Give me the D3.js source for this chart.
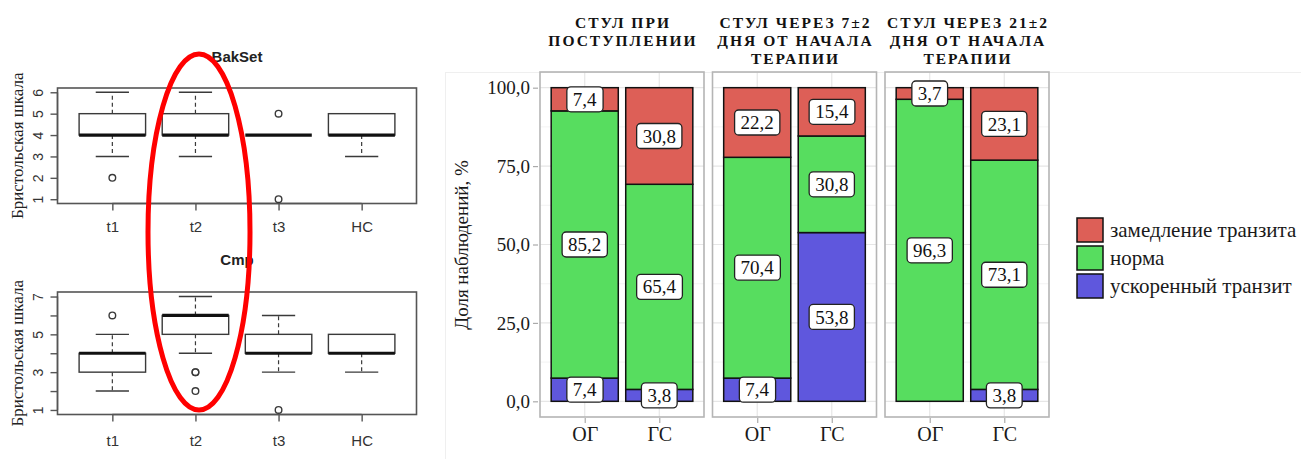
<!DOCTYPE html>
<html><head><meta charset="utf-8">
<script src="https://cdn.jsdelivr.net/npm/d3@7"></script>
<style>
html,body{margin:0;padding:0;background:#fff;}
svg{display:block;}
</style></head>
<body>
<svg id="c" width="1301" height="459"></svg>
<script>
// ---------- DATA ----------
const boxGroups = ["t1", "t2", "t3", "HC"];
// BakSet: [lowWhisker, q1, median, q3, highWhisker]
const bakSetStats = [[3,4,4,5,6],[3,4,4,5,6],[4,4,4,4,4],[3,4,4,5,5]];
const bakSetOutliers = [[2],[],[5,1],[]];
const bakSetTicks = [1,2,3,4,5,6];
const cmpStats = [[2,3,4,4,5],[4,5,6,6,7],[3,4,4,5,6],[3,4,4,5,5]];
const cmpOutliers = [[6],[3,3,2],[1],[]];
const cmpTicks = [1,2,3,4,5,6,7];
const cmpTickLabels = [1,3,5,7];

const facets = ["СТУЛ ПРИ|ПОСТУПЛЕНИИ", "СТУЛ ЧЕРЕЗ 7±2|ДНЯ ОТ НАЧАЛА|ТЕРАПИИ", "СТУЛ ЧЕРЕЗ 21±2|ДНЯ ОТ НАЧАЛА|ТЕРАПИИ"];
const groups = ["ОГ", "ГС"];
const seriesNames = ["замедление транзита", "норма", "ускоренный транзит"];
// values per facet, per group (ОГ, ГС)
const slowTransit = [[7.4, 30.8], [22.2, 15.4], [3.7, 23.1]];
const normal      = [[85.2, 65.4], [70.4, 30.8], [96.3, 73.1]];
const fastTransit = [[7.4, 3.8], [7.4, 53.8], [0, 3.8]];
const yTicks = [0, 25, 50, 75, 100];
const yTickLabels = ["0,0", "25,0", "50,0", "75,0", "100,0"];
const colors = ["#DD5F57", "#57DD5F", "#5F57DD"];

// ---------- DRAW ----------
const svg = d3.select("#c");
const serif = "Liberation Serif";
const sans = "Liberation Sans";

// faint image borders
svg.append("line").attr("x1",445).attr("x2",1301).attr("y1",72.5).attr("y2",72.5).attr("stroke","#efefef");
svg.append("line").attr("x1",445.5).attr("x2",445.5).attr("y1",72).attr("y2",459).attr("stroke","#efefef");

// ---- boxplots ----
function boxplot(title, stats, outliers, ticks, tickLabels, frameTop, frameBottom, titleY, labelY) {
  const g = svg.append("g");
  const x = d3.scaleLinear().domain([0.34, 4.66]).range([57.5, 416.5]);
  const lo = d3.min(ticks), hi = d3.max(ticks);
  const pad = (hi - lo) * 0.04;
  const y = d3.scaleLinear().domain([lo - pad, hi + pad]).range([frameBottom, frameTop]);
  const stroke = "#3a3a3a";
  g.append("rect").attr("x", x(0.34)).attr("y", frameTop).attr("width", x(4.66)-x(0.34)).attr("height", frameBottom-frameTop)
    .attr("fill","none").attr("stroke","#555").attr("stroke-width",1.6);
  // y axis
  const ya = d3.axisLeft(y).tickValues(ticks).tickSize(7).tickFormat(d => tickLabels.includes(d) ? d : "");
  const yg = g.append("g").attr("transform", `translate(${x(0.34)},0)`).call(ya);
  yg.select(".domain").remove();
  yg.append("line").attr("x1",0).attr("x2",0).attr("y1",y(lo)).attr("y2",y(hi)).attr("stroke","#555").attr("stroke-width",1.4);
  yg.selectAll(".tick line").attr("stroke","#555").attr("stroke-width",1.4);
  yg.selectAll(".tick text").attr("font-family",sans).attr("font-size",14).attr("fill","#333")
    .attr("transform","rotate(-90)").attr("x",0).attr("y",-19).attr("dy","0.35em").attr("text-anchor","middle");
  // x axis
  const xa = d3.axisBottom(x).tickValues([1,2,3,4]).tickSize(7).tickFormat((d,i)=>boxGroups[i]);
  const xg = g.append("g").attr("transform", `translate(0,${frameBottom})`).call(xa);
  xg.select(".domain").remove();
  xg.append("line").attr("x1",x(1)).attr("x2",x(4)).attr("y1",0).attr("y2",0).attr("stroke","#555").attr("stroke-width",1.4);
  xg.selectAll(".tick line").attr("stroke","#555").attr("stroke-width",1.4);
  xg.selectAll(".tick text").attr("font-family",sans).attr("font-size",15).attr("fill","#333").attr("y",labelY - frameBottom).attr("dy","0.35em");
  // title
  g.append("text").attr("x",(x(0.34)+x(4.66))/2).attr("y",titleY).attr("text-anchor","middle")
    .attr("font-family",sans).attr("font-weight","bold").attr("font-size",15).attr("fill","#222").text(title);
  // y title
  g.append("text").attr("transform",`translate(23,${(frameTop+frameBottom)/2}) rotate(-90)`).attr("text-anchor","middle")
    .attr("font-family",serif).attr("font-size",17).attr("fill","#222").text("Бристольская шкала");
  // boxes
  stats.forEach((s,i)=>{
    const cx = x(i+1), hw = (x(1.4)-x(1));
    const [wl,q1,md,q3,wh] = s;
    if (wh > q3) {
      g.append("line").attr("x1",cx).attr("x2",cx).attr("y1",y(q3)).attr("y2",y(wh)).attr("stroke",stroke).attr("stroke-dasharray","4,3").attr("stroke-width",1.2);
      g.append("line").attr("x1",cx-hw/2).attr("x2",cx+hw/2).attr("y1",y(wh)).attr("y2",y(wh)).attr("stroke",stroke).attr("stroke-width",1.4);
    }
    if (wl < q1) {
      g.append("line").attr("x1",cx).attr("x2",cx).attr("y1",y(q1)).attr("y2",y(wl)).attr("stroke",stroke).attr("stroke-dasharray","4,3").attr("stroke-width",1.2);
      g.append("line").attr("x1",cx-hw/2).attr("x2",cx+hw/2).attr("y1",y(wl)).attr("y2",y(wl)).attr("stroke",stroke).attr("stroke-width",1.4);
    }
    g.append("rect").attr("x",cx-hw).attr("width",2*hw).attr("y",y(q3)).attr("height",Math.max(0,y(q1)-y(q3)))
      .attr("fill","#fff").attr("stroke",stroke).attr("stroke-width",1.4);
    g.append("line").attr("x1",cx-hw).attr("x2",cx+hw).attr("y1",y(md)).attr("y2",y(md)).attr("stroke","#111").attr("stroke-width",3.2);
    outliers[i].forEach(o=>{
      g.append("circle").attr("cx",cx).attr("cy",y(o)).attr("r",3.3).attr("fill","none").attr("stroke",stroke).attr("stroke-width",1.4);
    });
  });
}
boxplot("BakSet", bakSetStats, bakSetOutliers, bakSetTicks, bakSetTicks, 88, 203.5, 62, 227);
boxplot("Cmp", cmpStats, cmpOutliers, cmpTicks, cmpTickLabels, 292, 414.5, 265, 441);

// red ellipse
svg.append("ellipse").attr("cx",199).attr("cy",232).attr("rx",51).attr("ry",178)
  .attr("fill","none").attr("stroke","#FF0000").attr("stroke-width",5);

// ---- stacked bar facets ----
const panelX = [540, 712.5, 885];
const panelW = 164;
const panelTop = 72, panelBottom = 417;
const y = d3.scaleLinear().domain([-5, 105]).range([panelBottom, panelTop]);

// y axis
const yAxis = d3.axisLeft(y).tickValues(yTicks).tickSize(5).tickPadding(3).tickFormat((d,i)=>yTickLabels[i]);
const yAx = svg.append("g").attr("transform",`translate(${panelX[0]-2},0)`).call(yAxis);
yAx.select(".domain").remove();
yAx.selectAll(".tick line").attr("stroke","#aaa").attr("stroke-width",1.2);
yAx.selectAll(".tick text").attr("font-family",serif).attr("font-size",19).attr("fill","#1a1a1a");
svg.append("text").attr("transform",`translate(468,245) rotate(-90)`).attr("text-anchor","middle")
  .attr("font-family",serif).attr("font-size",19).attr("fill","#1a1a1a").text("Доля наблюдений, %");

facets.forEach((title, f) => {
  const x0 = panelX[f];
  const xs = d3.scalePoint().domain(groups).range([x0, x0 + panelW]).padding(0.6);
  const bw = xs.step() * 0.9;
  const g = svg.append("g");
  // grid
  d3.range(0, 101, 12.5).forEach(v=>{
    g.append("line").attr("x1",x0).attr("x2",x0+panelW).attr("y1",y(v)).attr("y2",y(v))
      .attr("stroke", v % 25 === 0 ? "#e6e6e6" : "#f0f0f0").attr("stroke-width", v % 25 === 0 ? 1.2 : 0.8);
  });
  groups.forEach(gr=>{
    g.append("line").attr("x1",xs(gr)).attr("x2",xs(gr)).attr("y1",panelTop).attr("y2",panelBottom).attr("stroke","#e6e6e6").attr("stroke-width",1.2);
  });
  // bars (stack from bottom: fast, normal, slow)
  groups.forEach((gr, gi)=>{
    const vals = [fastTransit[f][gi], normal[f][gi], slowTransit[f][gi]];
    const cols = [colors[2], colors[1], colors[0]];
    let base = 0;
    const segs = [];
    vals.forEach((v, k)=>{
      if (v > 0) {
        g.append("rect").attr("x", xs(gr)-bw/2).attr("width", bw).attr("y", y(base+v)).attr("height", y(base)-y(base+v))
          .attr("fill", cols[k]).attr("stroke","#111").attr("stroke-width",1.5);
        segs.push({v, mid: base + v/2});
      }
      base += v;
    });
    segs.forEach(s=>{
      const txt = d3.format(".1f")(s.v).replace(".", ",");
      const lg = g.append("g").attr("transform",`translate(${xs(gr)},${y(s.mid)})`);
      const t = lg.append("text").attr("text-anchor","middle").attr("dy","0.35em")
        .attr("font-family",serif).attr("font-size",19).attr("fill","#111").text(txt);
      const bb = t.node().getBBox();
      lg.insert("rect","text").attr("x", bb.x-6).attr("y",-12.5).attr("width",bb.width+12).attr("height",25)
        .attr("rx",4).attr("fill","#fff").attr("stroke","#222").attr("stroke-width",1.3);
    });
  });
  // panel border
  g.append("rect").attr("x",x0).attr("y",panelTop).attr("width",panelW).attr("height",panelBottom-panelTop)
    .attr("fill","none").attr("stroke","#b5b5b5").attr("stroke-width",1.6);
  // x axis
  const xa = d3.axisBottom(xs).tickSize(5).tickPadding(4);
  const xg = g.append("g").attr("transform",`translate(0,${panelBottom+1})`).call(xa);
  xg.select(".domain").remove();
  xg.selectAll(".tick line").attr("stroke","#aaa").attr("stroke-width",1.2);
  xg.selectAll(".tick text").attr("font-family",serif).attr("font-size",20).attr("fill","#1a1a1a");
  // facet title
  const lines = title.split("|");
  lines.forEach((ln, li)=>{
    svg.append("text").attr("x", x0 + panelW/2 + 1).attr("y", 28 + li*18).attr("text-anchor","middle")
      .attr("font-family",serif).attr("font-weight","bold").attr("font-size",15.5).attr("letter-spacing","2px")
      .attr("fill","#111").text(ln);
  });
});

// legend
seriesNames.forEach((n, i)=>{
  svg.append("rect").attr("x",1077).attr("y",218 + i*28).attr("width",26).attr("height",24)
    .attr("fill",colors[i]).attr("stroke","#111").attr("stroke-width",1.5);
  svg.append("text").attr("x",1110).attr("y",230 + i*28).attr("dy","0.35em")
    .attr("font-family",serif).attr("font-size",21).attr("fill","#1a1a1a").text(n);
});
</script>
</body></html>
